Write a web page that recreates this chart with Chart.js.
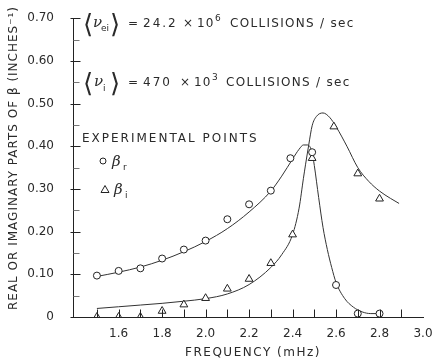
<!DOCTYPE html>
<html>
<head>
<meta charset="utf-8">
<script src="https://cdn.jsdelivr.net/npm/chart.js"></script>
<style>
  html, body { margin: 0; padding: 0; background: #fff; }
  #wrap { width: 435px; height: 362px; position: relative; }
</style>
</head>
<body>
<div id="wrap"><canvas id="betaChart"></canvas></div>
<script>
// Measured points: real part (circles) and imaginary part (triangles) of beta
const realFreq = [1.5, 1.6, 1.7, 1.8, 1.9, 2.0, 2.1, 2.2, 2.3, 2.39, 2.49, 2.6, 2.7, 2.8];
const realBeta = [0.097, 0.108, 0.114, 0.137, 0.158, 0.179, 0.229, 0.264, 0.296, 0.372, 0.386, 0.075, 0.008, 0.008];
const imagFreq = [1.5, 1.6, 1.7, 1.8, 1.9, 2.0, 2.1, 2.2, 2.3, 2.4, 2.49, 2.59, 2.7, 2.8];
const imagBeta = [0, 0, 0, 0.014, 0.029, 0.044, 0.066, 0.089, 0.126, 0.193, 0.372, 0.446, 0.336, 0.277];

// Theoretical curves
const realFitFreq = [1.5, 1.6, 1.7, 1.8, 1.9, 2.0, 2.1, 2.2, 2.3, 2.35, 2.4, 2.43, 2.45, 2.47, 2.49, 2.50, 2.52, 2.54, 2.56, 2.58, 2.60, 2.64, 2.68, 2.72, 2.76, 2.80];
const realFitBeta = [0.095, 0.105, 0.117, 0.133, 0.153, 0.177, 0.207, 0.246, 0.295, 0.330, 0.370, 0.393, 0.403, 0.403, 0.385, 0.355, 0.280, 0.210, 0.158, 0.116, 0.081, 0.043, 0.023, 0.012, 0.008, 0.008];
const imagFitFreq = [1.5, 1.6, 1.7, 1.8, 1.9, 2.0, 2.1, 2.2, 2.3, 2.35, 2.4, 2.43, 2.45, 2.46, 2.475, 2.49, 2.51, 2.54, 2.57, 2.6, 2.65, 2.7, 2.75, 2.8, 2.85, 2.89];
const imagFitBeta = [0.020, 0.024, 0.028, 0.032, 0.037, 0.043, 0.054, 0.076, 0.116, 0.146, 0.193, 0.255, 0.325, 0.358, 0.405, 0.448, 0.470, 0.478, 0.468, 0.446, 0.400, 0.350, 0.318, 0.295, 0.278, 0.266];

const xTickLabels = ['1.6', '1.8', '2.0', '2.2', '2.4', '2.6', '2.8', '3.0'];
const yTickLabels = ['0', '0.10', '0.20', '0.30', '0.40', '0.50', '0.60', '0.70'];

const INK = '#222';
const TEXT = '#2a2a2a';
const FONT = "'DejaVu Sans', sans-serif";

function toXY(xs, ys) {
  return xs.map((x, i) => ({ x: x, y: ys[i] }));
}

// text helper: font, letter spacing, position
function put(ctx, text, x, y, font, spacing) {
  ctx.font = font;
  ctx.letterSpacing = spacing || '0px';
  ctx.fillText(text, x, y);
  ctx.letterSpacing = '0px';
}

const annotations = {
  id: 'annotations',
  afterDraw(chart) {
    const ctx = chart.ctx;
    const xs = chart.scales.x;
    const ys = chart.scales.y;
    ctx.save();
    ctx.strokeStyle = INK;
    ctx.fillStyle = TEXT;
    ctx.lineWidth = 1;

    // inward tick marks on the y axis (major every 0.1, minor every 0.05)
    const x0 = Math.round(xs.left) + 0.5;
    for (let i = 0; i <= 14; i++) {
      const py = Math.round(ys.getPixelForValue(i * 0.05)) + 0.5;
      ctx.beginPath();
      if (i % 2 === 0) {
        ctx.strokeStyle = INK;
        ctx.moveTo(x0 - 3, py);
        ctx.lineTo(x0 + 7, py);
      } else {
        ctx.strokeStyle = '#777';
        ctx.moveTo(x0, py);
        ctx.lineTo(x0 + 6, py);
      }
      ctx.stroke();
    }

    // inward tick marks on the x axis, every 0.1
    ctx.strokeStyle = INK;
    const yb = Math.round(ys.bottom) + 0.5;
    xs.ticks.forEach(t => {
      if (t.value < 1.45 || t.value > 2.95) return;
      const px = Math.round(xs.getPixelForValue(t.value)) + 0.5;
      ctx.beginPath();
      ctx.moveTo(px, yb);
      ctx.lineTo(px, yb - 8);
      ctx.stroke();
    });

    ctx.textBaseline = 'alphabetic';
    ctx.textAlign = 'left';
    const sans = '12px ' + FONT;
    const small = '9px ' + FONT;
    const ital = "italic 15px 'DejaVu Serif', serif";
    const bracket = '26px ' + FONT;

    // collision frequencies
    put(ctx, '\u27E8', 83, 33, bracket);
    put(ctx, '\u03BD', 93, 27, ital);
    put(ctx, 'ei', 101, 31, small);
    put(ctx, '\u27E9', 110, 33, bracket);
    put(ctx, '=', 128, 27, sans);
    put(ctx, '24.2', 143, 27, sans, '2px');
    put(ctx, '\u00D7', 183, 27, sans);
    put(ctx, '10', 197, 27, sans, '1px');
    put(ctx, '6', 215, 21, small);
    put(ctx, 'COLLISIONS / sec', 230, 27, sans, '1.3px');

    put(ctx, '\u27E8', 83, 92, bracket);
    put(ctx, '\u03BD', 94, 86, ital);
    put(ctx, 'i', 103, 91, small);
    put(ctx, '\u27E9', 110, 92, bracket);
    put(ctx, '=', 128, 86, sans);
    put(ctx, '470', 143, 86, sans, '2px');
    put(ctx, '\u00D7', 180, 86, sans);
    put(ctx, '10', 194, 86, sans, '1px');
    put(ctx, '3', 212, 80, small);
    put(ctx, 'COLLISIONS / sec', 226, 86, sans, '1.3px');

    // key
    put(ctx, 'EXPERIMENTAL POINTS', 82, 142, sans, '2px');
    ctx.beginPath();
    ctx.arc(103, 161, 3, 0, Math.PI * 2);
    ctx.stroke();
    put(ctx, '\u03B2', 112, 166, ital);
    put(ctx, 'r', 123, 170, small);
    ctx.beginPath();
    ctx.moveTo(105, 185.5);
    ctx.lineTo(109, 192.5);
    ctx.lineTo(101, 192.5);
    ctx.closePath();
    ctx.stroke();
    put(ctx, '\u03B2', 114, 194, ital);
    put(ctx, 'i', 125, 198, small);

    // axis titles
    ctx.textAlign = 'center';
    put(ctx, 'FREQUENCY (mHz)', 253, 356, sans, '1.5px');
    ctx.translate(17, 158);
    ctx.rotate(-Math.PI / 2);
    put(ctx, 'REAL OR IMAGINARY PARTS OF \u03B2 (INCHES\u207B\u00B9)', 0, 0, sans, '1px');
    ctx.restore();
  }
};

new Chart(document.getElementById('betaChart'), {
  type: 'scatter',
  data: {
    datasets: [
      {
        label: 'beta r',
        data: toXY(realFreq, realBeta),
        pointStyle: 'circle',
        pointRadius: 3.5,
        pointBorderWidth: 1,
        pointBorderColor: INK,
        pointBackgroundColor: '#fff',
        showLine: false
      },
      {
        label: 'beta i',
        data: toXY(imagFreq, imagBeta),
        pointStyle: 'triangle',
        pointRadius: 4.5,
        pointBorderWidth: 1,
        pointBorderColor: INK,
        pointBackgroundColor: '#fff',
        showLine: false
      },
      {
        label: 'real fit',
        data: toXY(realFitFreq, realFitBeta),
        showLine: true,
        pointRadius: 0,
        borderColor: '#333',
        borderWidth: 1,
        cubicInterpolationMode: 'monotone'
      },
      {
        label: 'imag fit',
        data: toXY(imagFitFreq, imagFitBeta),
        showLine: true,
        pointRadius: 0,
        borderColor: '#333',
        borderWidth: 1,
        cubicInterpolationMode: 'monotone'
      }
    ]
  },
  options: {
    responsive: true,
    maintainAspectRatio: false,
    animation: false,
    layout: { padding: { top: 13, right: 12, left: 0, bottom: 0 } },
    plugins: {
      legend: { display: false },
      tooltip: { enabled: false }
    },
    scales: {
      x: {
        type: 'linear',
        min: 1.39,
        max: 3.0,
        afterFit: s => { s.height = 45; },
        grid: { display: false },
        border: { display: true, color: INK, width: 1 },
        ticks: {
          stepSize: 0.1,
          includeBounds: false,
          autoSkip: false,
          maxRotation: 0,
          padding: 2,
          color: TEXT,
          font: { family: FONT, size: 12 },
          callback: v => {
            const s = Number(v).toFixed(1);
            return xTickLabels.includes(s) ? s : '';
          }
        }
      },
      y: {
        min: 0,
        max: 0.7,
        afterFit: s => { s.width = 73; },
        grid: { display: false },
        border: { display: true, color: INK, width: 1 },
        ticks: {
          stepSize: 0.1,
          padding: 11,
          color: TEXT,
          font: { family: FONT, size: 12 },
          callback: v => yTickLabels[Math.round(v * 10)]
        }
      }
    }
  },
  plugins: [annotations]
});
</script>
</body>
</html>
